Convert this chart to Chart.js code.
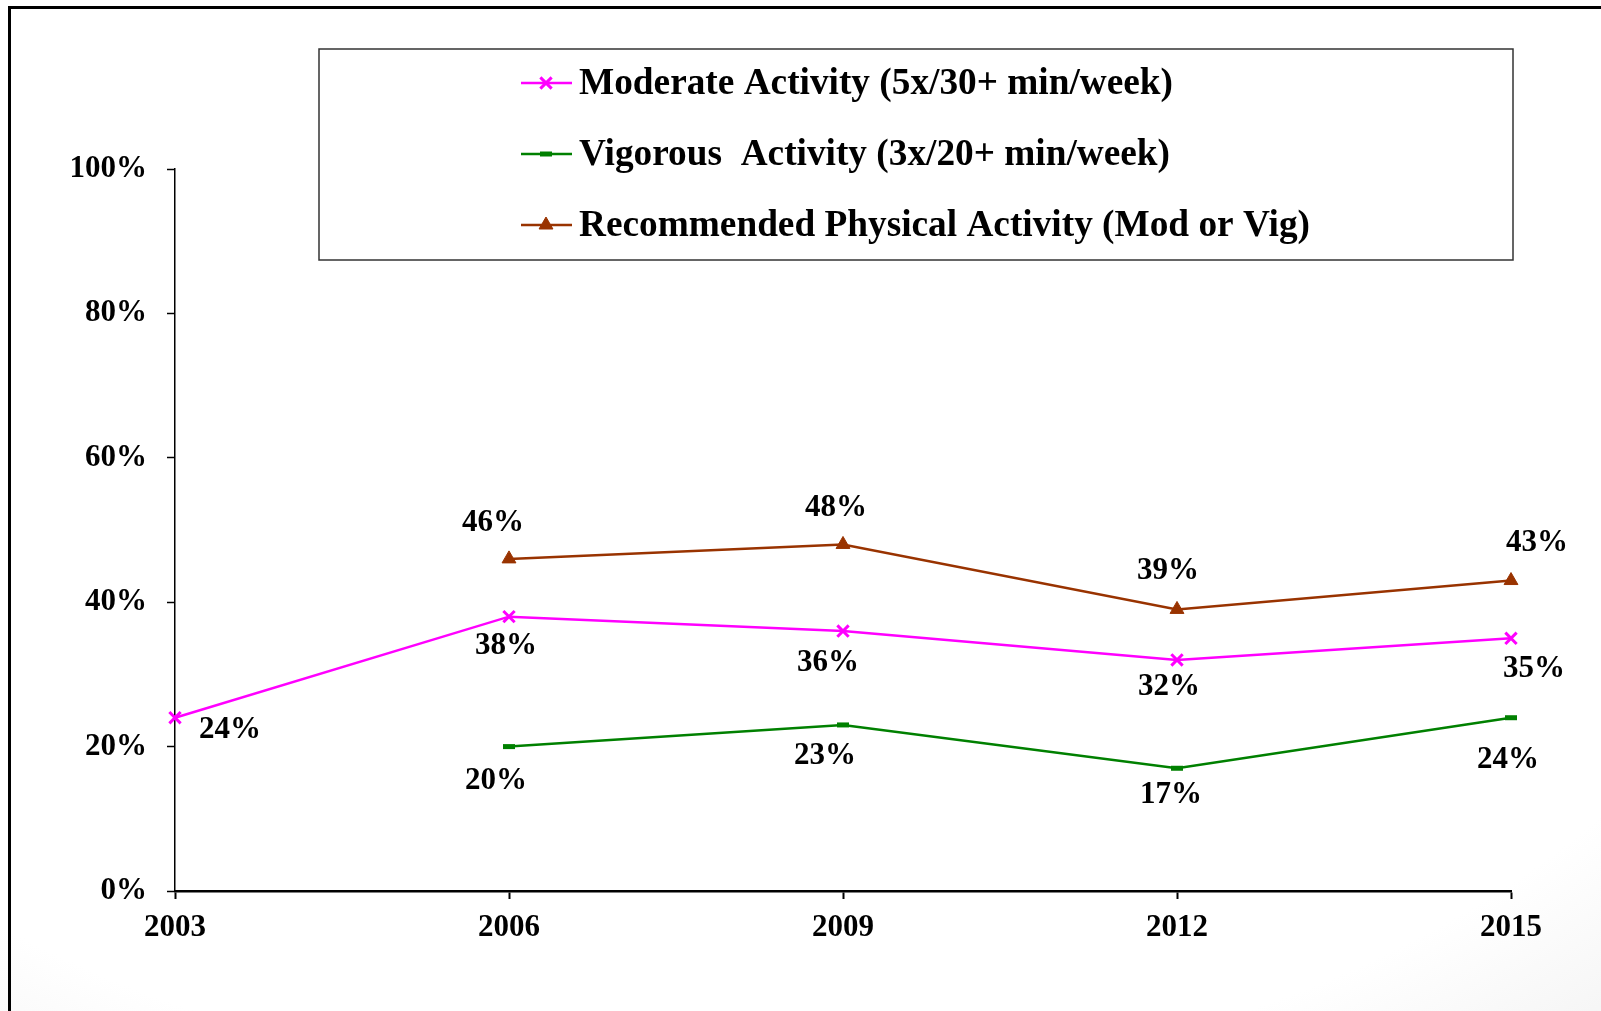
<!DOCTYPE html>
<html>
<head>
<meta charset="utf-8">
<title>Physical activity 2003-2015</title>
<script src="https://cdn.jsdelivr.net/npm/chart.js@4/dist/chart.umd.min.js"></script>
<style>
  html, body { margin: 0; padding: 0; }
  body {
    width: 1601px; height: 1011px; overflow: hidden; position: relative;
    background: radial-gradient(ellipse 95% 95% at 45% 40%, #ffffff 72%, #ececec 100%);
  }
  .frame {
    position: absolute; left: 8px; top: 6px; width: 1700px; height: 1100px;
    border-left: 3px solid #000; border-top: 3px solid #000;
  }
  #wrap { position: absolute; left: 0; top: 0; width: 1601px; height: 1011px; }
</style>
</head>
<body>
<div class="frame"></div>
<div id="wrap"><canvas id="chart"></canvas></div>
<script>
// ---- data ----
const years = ['2003', '2006', '2009', '2012', '2015'];
const moderate = [24, 38, 36, 32, 35];
const vigorous = [null, 20, 23, 17, 24];
const recommended = [null, 46, 48, 39, 43];
const yTicks = [0, 20, 40, 60, 80, 100];

const seriesNames = [
  'Moderate Activity (5x/30+ min/week)',
  'Vigorous  Activity (3x/20+ min/week)',
  'Recommended Physical Activity (Mod or Vig)'
];

const SERIF = '"Liberation Serif", "Times New Roman", serif';

// label offsets from each point (px), hand placed like the original
const labelOffsets = [
  [[55, 12], [-3, 29], [-15, 32], [-8, 27], [23, 31]],
  [null, [-13, 34], [-18, 31], [-6, 27], [-3, 42]],
  [null, [-16, -36], [-7, -36], [-9, -38], [26, -38]]
];

// draw the value labels
const valueLabels = {
  id: 'valueLabels',
  afterDatasetsDraw(chart) {
    const ctx = chart.ctx;
    ctx.save();
    ctx.font = 'bold 31px ' + SERIF;
    ctx.fillStyle = '#000';
    ctx.textAlign = 'center';
    ctx.textBaseline = 'middle';
    chart.data.datasets.forEach((ds, i) => {
      chart.getDatasetMeta(i).data.forEach((pt, j) => {
        const v = ds.data[j];
        if (v == null) return;
        const off = labelOffsets[i][j] || [0, 0];
        ctx.fillText(v + '%', pt.x + off[0], pt.y + off[1]);
      });
    });
    ctx.restore();
  }
};

// boxed legend inside the chart
const boxLegend = {
  id: 'boxLegend',
  afterDraw(chart) {
    const ctx = chart.ctx;
    ctx.save();
    ctx.strokeStyle = '#333';
    ctx.lineWidth = 1.5;
    ctx.strokeRect(319, 49, 1194, 211);
    const rows = [83, 154, 225];
    chart.data.datasets.forEach((ds, i) => {
      const y = rows[i];
      ctx.strokeStyle = ds.borderColor;
      ctx.fillStyle = ds.borderColor;
      ctx.lineWidth = 2.5;
      ctx.beginPath();
      ctx.moveTo(521, y); ctx.lineTo(572, y);
      ctx.stroke();
      ctx.lineWidth = ds.pointBorderWidth;
      Chart.helpers.drawPoint(ctx, {
        pointStyle: ds.pointStyle,
        radius: ds.pointRadius,
        borderWidth: ds.pointBorderWidth
      }, 546, y);
      ctx.fillStyle = '#000';
      ctx.font = 'bold 37.3px ' + SERIF;
      ctx.textAlign = 'left';
      ctx.textBaseline = 'middle';
      ctx.fillText(seriesNames[i], 579, y + 1);
    });
    ctx.restore();
  }
};

function mkSet(label, data, color, style, radius, bw) {
  return {
    label, data,
    borderColor: color, backgroundColor: color,
    pointBackgroundColor: color, pointBorderColor: color,
    borderWidth: 2.5, pointStyle: style, pointRadius: radius,
    pointBorderWidth: bw, tension: 0, spanGaps: false
  };
}

new Chart(document.getElementById('chart'), {
  type: 'line',
  data: {
    labels: years,
    datasets: [
      mkSet(seriesNames[0], moderate, '#ff00ff', 'crossRot', 8, 3),
      mkSet(seriesNames[1], vigorous, '#008000', 'line', 6, 5),
      mkSet(seriesNames[2], recommended, '#993300', 'triangle', 8, 1)
    ]
  },
  options: {
    responsive: true,
    maintainAspectRatio: false,
    animation: false,
    layout: { padding: { left: 0, top: 169, right: 90, bottom: 0 } },
    plugins: { legend: { display: false }, tooltip: { enabled: false } },
    scales: {
      x: {
        type: 'category',
        offset: false,
        grid: { display: true, drawOnChartArea: false, tickLength: 8, tickColor: '#000', tickWidth: 2 },
        border: { color: '#000', width: 2.5 },
        ticks: { color: '#000', font: { family: SERIF, size: 31, weight: 'bold' }, padding: 10, maxRotation: 0 },
        afterFit(s) { s.height = 120; }
      },
      y: {
        min: 0, max: 100,
        afterBuildTicks(s) { s.ticks = yTicks.map(v => ({ value: v })); },
        grid: { display: true, drawOnChartArea: false, tickLength: 8, tickColor: '#000', tickWidth: 1.5 },
        border: { color: '#000', width: 1.5 },
        ticks: { color: '#000', font: { family: SERIF, size: 31, weight: 'bold' }, padding: 20,
          callback: v => v + '%' },
        afterFit(s) { s.width = 175; }
      }
    }
  },
  plugins: [valueLabels, boxLegend]
});
</script>
</body>
</html>
